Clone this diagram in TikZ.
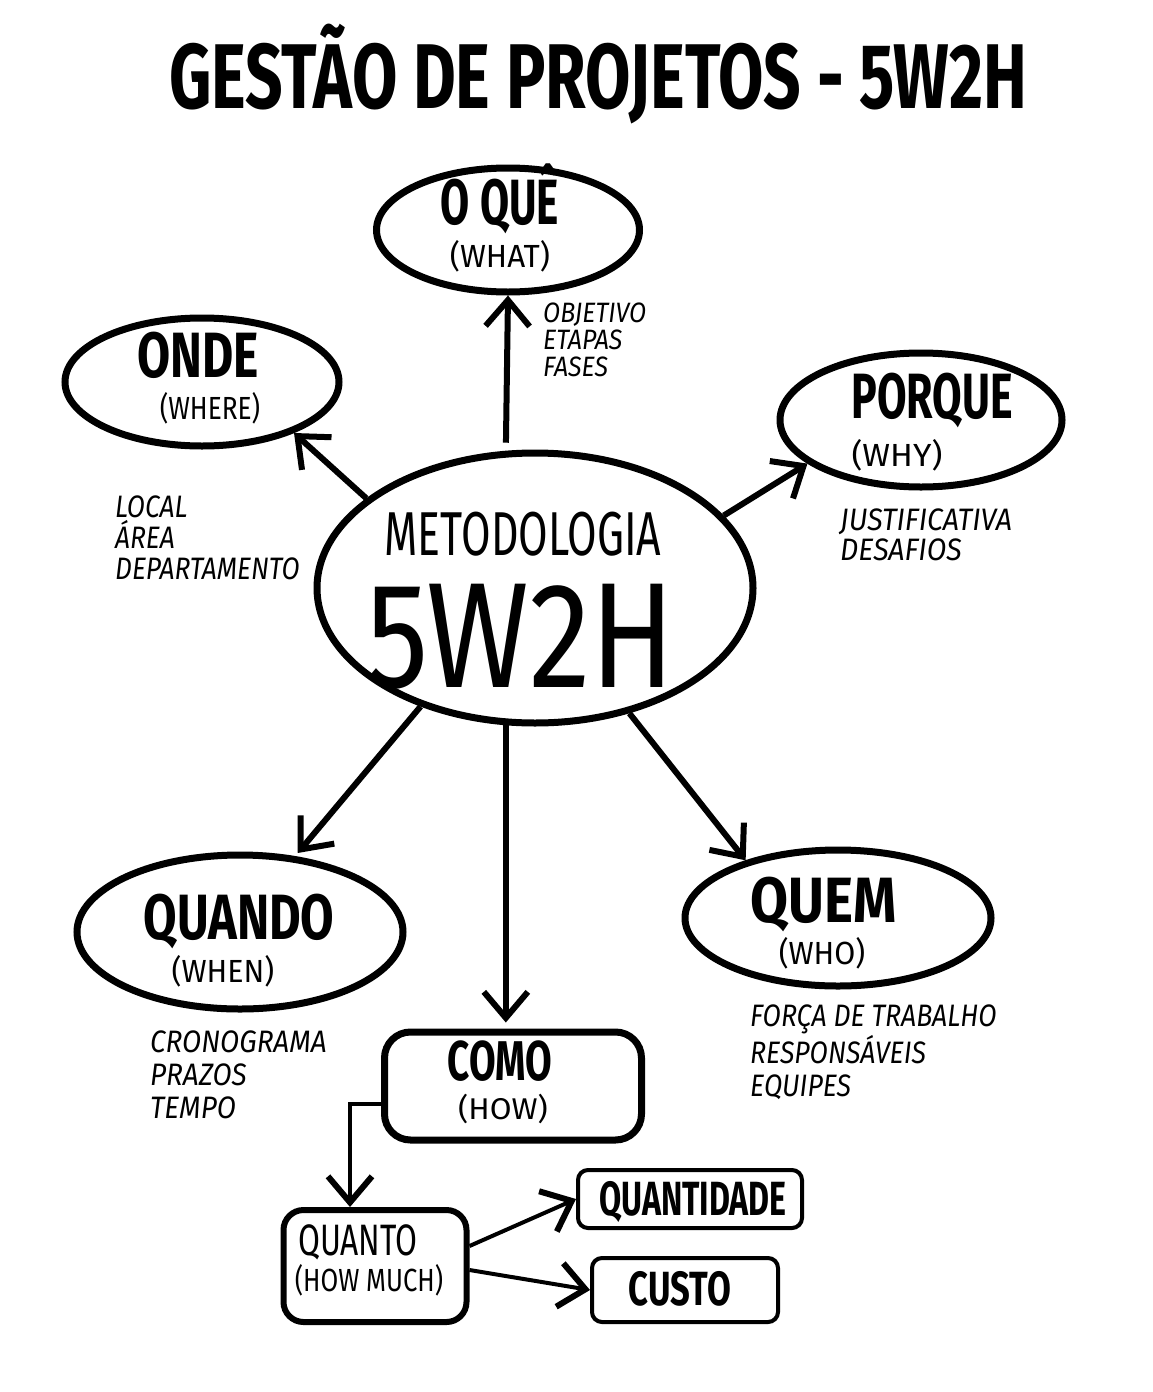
\documentclass[tikz,border=0pt]{standalone}
\usepackage{fontspec}
\usepackage{graphicx}
\setmainfont{Fira Sans}
\usetikzlibrary{shapes.geometric,arrows.meta}
\newcommand{\hw}[2][0.7]{\scalebox{#1}[1]{#2}}
\tikzset{
  bubble/.style={draw, ellipse, line width=7pt, inner sep=0pt},
  boxed/.style={draw, rectangle, rounded corners=26pt, line width=5pt, inner sep=0pt},
  head/.style={anchor=base, inner sep=0pt, font=\bfseries\fontsize{64}{64}\selectfont},
  sub/.style={anchor=base, inner sep=0pt, font=\fontsize{32}{32}\selectfont},
  note/.style={anchor=base west, inner sep=0pt, align=left, font=\itshape\fontsize{31}{31}\selectfont},
  arr/.style={line width=6pt, -{Straight Barb[length=26pt,width=44pt,line width=6pt]}},
}
\begin{document}
\begin{tikzpicture}[x=1pt,y=-1pt]
\useasboundingbox (0,0) rectangle (1152,1392);
% title
\node[anchor=base, inner sep=0pt, font=\bfseries\fontsize{92}{92}\selectfont] (title) at (598,108) {\hw[0.715]{GESTÃO DE PROJETOS - 5W2H}};
% centre
\node[bubble, minimum width=436pt, minimum height=270pt] (meto) at (535,588) {};
\node[anchor=base, inner sep=0pt, font=\fontsize{62}{62}\selectfont] (metot) at (523,555) {\hw[0.69]{METODOLOGIA}};
\node[anchor=base, inner sep=0pt, font=\fontsize{150}{150}\selectfont] (metos) at (521,687) {\hw[0.83]{5W2H}};
% the five W
\node[bubble, minimum width=263pt, minimum height=124pt] (oque) at (508,230) {};
\node[head] (oquet) at (500,224) {\hw[0.66]{O QUÊ}};
\node[sub] (oques) at (500,267) {\hw[0.98]{(WHAT)}};
\node[bubble, minimum width=274pt, minimum height=128pt] (onde) at (202,382) {};
\node[head] (ondet) at (198,377) {\hw[0.75]{ONDE}};
\node[sub] (ondes) at (210,419) {\hw[0.82]{(WHERE)}};
\node[bubble, minimum width=282pt, minimum height=134pt] (porque) at (921,420) {};
\node[head] (porquet) at (932,418) {\hw[0.67]{PORQUE}};
\node[sub] (porques) at (897,466) {\hw[1.05]{(WHY)}};
\node[bubble, minimum width=326pt, minimum height=154pt] (quando) at (240,932) {};
\node[head] (quandot) at (239,939) {\hw[0.76]{QUANDO}};
\node[sub] (quandos) at (223,982) {\hw[0.95]{(WHEN)}};
\node[bubble, minimum width=306pt, minimum height=136pt] (quem) at (838,918) {};
\node[head] (quemt) at (824,922) {\hw[0.86]{QUEM}};
\node[sub] (quems) at (822,964) {\hw[0.95]{(WHO)}};
% the two H
\node[boxed, line width=7pt, minimum width=257pt, minimum height=108pt] (como) at (513,1086) {};
\node[head, font=\bfseries\fontsize{56}{56}\selectfont] (comot) at (500,1080) {\hw[0.69]{COMO}};
\node[sub, font=\fontsize{30}{30}\selectfont] (comos) at (503,1119) {\hw[1.05]{(HOW)}};
\node[boxed, rounded corners=20pt, line width=6pt, minimum width=183pt, minimum height=112pt] (quanto) at (375,1266) {};
\node[head, font=\fontsize{44}{44}\selectfont] (quantot) at (358,1255) {\hw[0.72]{QUANTO}};
\node[sub] (quantos) at (369,1291) {\hw[0.8]{(HOW MUCH)}};
\node[boxed, rounded corners=10pt, line width=4pt, minimum width=224pt, minimum height=58pt] (qtd) at (690,1199) {};
\node[head, font=\bfseries\fontsize{48}{48}\selectfont] (qtdt) at (693,1215) {\hw[0.67]{QUANTIDADE}};
\node[boxed, rounded corners=10pt, line width=4pt, minimum width=186pt, minimum height=64pt] (custo) at (685,1290) {};
\node[head, font=\bfseries\fontsize{48}{48}\selectfont] (custot) at (680,1305) {\hw[0.72]{CUSTO}};
% notes (base = last line)
\node[note, font=\itshape\fontsize{28}{27}\selectfont] (oquen) at (543,376) {\hw[0.89]{OBJETIVO}\\\hw[0.89]{ETAPAS}\\\hw[0.89]{FASES}};
\node[note] (onden) at (115,579) {\hw[0.85]{LOCAL}\\\hw[0.85]{ÁREA}\\\hw[0.85]{DEPARTAMENTO}};
\node[note, font=\itshape\fontsize{31}{30}\selectfont] (porquen) at (840,560) {\hw[0.92]{JUSTIFICATIVA}\\\hw[0.92]{DESAFIOS}};
\node[note, font=\itshape\fontsize{31}{33}\selectfont] (quandon) at (150,1118) {\hw[0.9]{CRONOGRAMA}\\\hw[0.9]{PRAZOS}\\\hw[0.9]{TEMPO}};
\node[note, font=\itshape\fontsize{31}{33}\selectfont] (quemn) at (750,1096) {\hw[0.86]{FORÇA DE TRABALHO}\\\hw[0.86]{RESPONSÁVEIS}\\\hw[0.86]{EQUIPES}};
% arrows
\draw[arr, shorten <=8pt] (meto.102) -- (oque.south);
\draw[arr] (meto.152) -- (onde.-29);
\draw[arr] (meto.21) -- (porque.201);
\draw[arr, shorten >=4pt] (meto.226) -- (quando.54);
\draw[arr, shorten >=6pt] (meto.258) -- (meto.258 |- como.north);
\draw[arr] (meto.-53) -- (quem.148);
\draw[arr, line width=4pt] ([yshift=-18pt]como.west) -| ([xshift=-25pt]quanto.north);
\draw[arr, line width=4pt] ([yshift=20pt]quanto.east) -- (qtd.west);
\draw[arr, line width=4pt] ([yshift=-4pt]quanto.east) -- (custo.west);
\end{tikzpicture}
\end{document}
